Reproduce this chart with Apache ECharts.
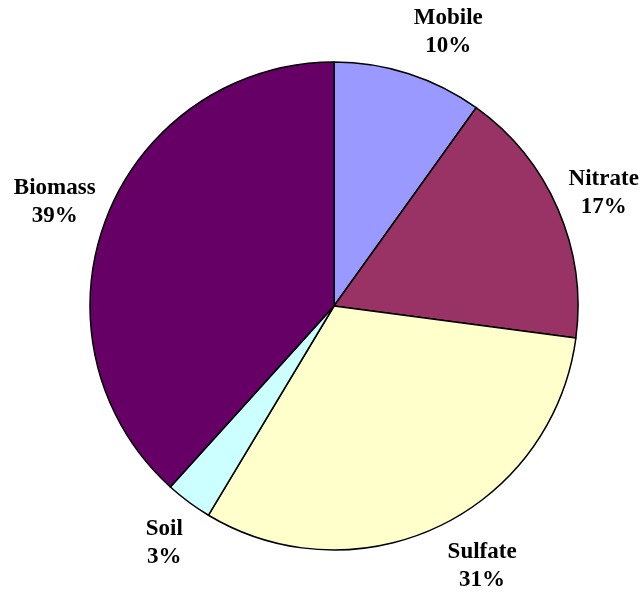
<!DOCTYPE html>
<html>
<head>
<meta charset="utf-8">
<script src="https://cdn.jsdelivr.net/npm/echarts@6/dist/echarts.min.js"></script>
<style>html,body{margin:0;padding:0;background:#fff;}#c{width:642px;height:597px;}</style>
</head>
<body>
<div id="c"></div>
<script>
var categories = ['Mobile', 'Nitrate', 'Sulfate', 'Soil', 'Biomass'];
var values = [9.9, 17.2, 31.5, 3.1, 38.3];
var percentLabels = ['10%', '17%', '31%', '3%', '39%'];
var colors = ['#9999FF', '#993366', '#FFFFCC', '#CCFFFF', '#660066'];

var CX = 334, CY = 306, R = 244, LABEL_DIST = 295;
var labelNudge = [[24, 7], [-1, 4], [20, -6], [6, 0], [-4, 2]];

var total = values.reduce(function (a, b) { return a + b; }, 0);
function midAngle(i) {
  var s = 0;
  for (var k = 0; k < i; k++) s += values[k];
  return (s + values[i] / 2) / total * 2 * Math.PI;
}

var chart = echarts.init(document.getElementById('c'), null, {renderer: 'canvas'});
chart.setOption({
  animation: false,
  backgroundColor: '#ffffff',
  series: [{
    type: 'pie',
    center: [CX, CY],
    radius: R,
    startAngle: 90,
    clockwise: true,
    avoidLabelOverlap: false,
    itemStyle: {borderColor: '#000000', borderWidth: 1.5},
    label: {
      show: true,
      position: 'outside',
      color: '#000000',
      fontFamily: 'Liberation Serif',
      fontWeight: 'bold',
      fontSize: 23,
      lineHeight: 28,
      formatter: function (p) { return p.name + '\n' + percentLabels[p.dataIndex]; }
    },
    labelLine: {show: false},
    labelLayout: function (p) {
      var i = p.dataIndex;
      var a = midAngle(i);
      return {
        x: CX + LABEL_DIST * Math.sin(a) + labelNudge[i][0],
        y: CY - LABEL_DIST * Math.cos(a) + labelNudge[i][1],
        align: 'center',
        verticalAlign: 'middle'
      };
    },
    emphasis: {disabled: true},
    data: categories.map(function (c, i) {
      return {name: c, value: values[i], itemStyle: {color: colors[i]}};
    })
  }]
});
</script>
</body>
</html>
